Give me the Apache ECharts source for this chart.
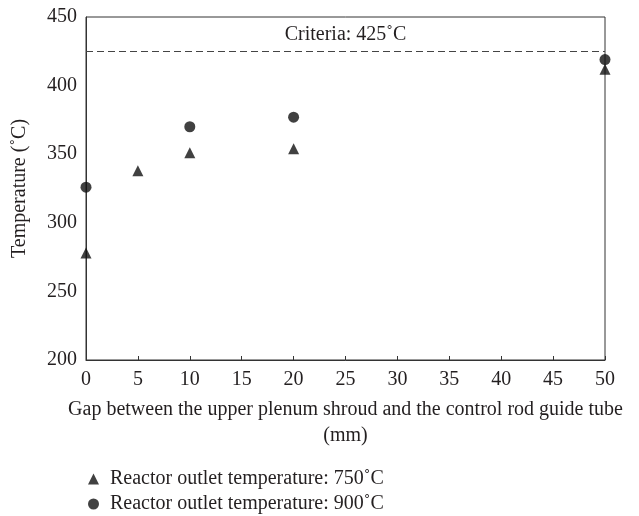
<!DOCTYPE html>
<html>
<head>
<meta charset="utf-8">
<script src="https://cdn.jsdelivr.net/npm/echarts@6/dist/echarts.min.js"></script>
<style>
html, body { margin: 0; padding: 0; background: #fff; }
#chart { width: 639px; height: 516px; }
</style>
</head>
<body>
<div id="chart"></div>
<script>
// gap (mm) and peak temperatures
var gap750 = [0, 5, 10, 20, 50];
var temp750 = [278, 338, 351, 354, 412];
var gap900 = [0, 10, 20, 50];
var temp900 = [326, 370, 377, 419];
var criteria = 425;

var name750 = 'Reactor outlet temperature: 750˚C';
var name900 = 'Reactor outlet temperature: 900˚C';

var font = 'Liberation Serif';
var ink = '#231f20';
var fs = 20;

function pairs(xs, ys) {
    var out = [];
    for (var i = 0; i < xs.length; i++) out.push([xs[i], ys[i]]);
    return out;
}

function legendRow(name, icon, top) {
    return {
        left: 88, top: top,
        padding: 0,
        itemWidth: 11, itemHeight: 11,
        itemGap: 0,
        textStyle: { fontFamily: font, fontSize: fs, color: ink, padding: [0, 0, 0, 6] },
        data: [{ name: name, icon: icon }]
    };
}

var chart = echarts.init(document.getElementById('chart'));
var option = {
    animation: false,
    textStyle: { fontFamily: font, color: ink },
    grid: {
        left: 86, right: 34, top: 17, bottom: 156,
        show: true, borderColor: '#333', borderWidth: 1
    },
    legend: [
        legendRow(name750, 'triangle', 469),
        legendRow(name900, 'circle', 494)
    ],
    xAxis: {
        type: 'value',
        min: 0, max: 50, interval: 5,
        name: 'Gap between the upper plenum shroud and the control rod guide tube\n(mm)',
        nameLocation: 'middle',
        nameGap: 37,
        nameTextStyle: { fontFamily: font, fontSize: fs, color: ink, lineHeight: 26 },
        axisLine: { lineStyle: { color: '#333' } },
        axisTick: { show: true, inside: true, length: 4, lineStyle: { color: '#333' } },
        axisLabel: { fontFamily: font, fontSize: fs, color: ink, margin: 10 },
        splitLine: { show: false }
    },
    yAxis: {
        type: 'value',
        min: 200, max: 450, interval: 50,
        name: 'Temperature (˚C)',
        nameLocation: 'middle',
        nameGap: 56,
        nameTextStyle: { fontFamily: font, fontSize: fs, color: ink },
        axisLine: { show: true, lineStyle: { color: '#333' } },
        axisTick: { show: false },
        axisLabel: { fontFamily: font, fontSize: fs, color: ink, margin: 9 },
        splitLine: { show: false }
    },
    series: [
        {
            name: name750,
            type: 'scatter',
            symbol: 'triangle',
            symbolSize: 11,
            clip: false,
            itemStyle: { color: '#111' },
            data: pairs(gap750, temp750),
            markLine: {
                silent: true,
                symbol: 'none',
                lineStyle: { type: [7, 4], color: '#444', width: 1.2 },
                label: {
                    position: 'middle',
                    formatter: 'Criteria: 425˚C',
                    fontFamily: font, fontSize: fs, color: ink,
                    distance: 7
                },
                data: [{ yAxis: criteria }]
            }
        },
        {
            name: name900,
            type: 'scatter',
            symbol: 'circle',
            symbolSize: 11,
            clip: false,
            itemStyle: { color: '#111' },
            data: pairs(gap900, temp900)
        }
    ]
};
chart.setOption(option);
</script>
</body>
</html>
